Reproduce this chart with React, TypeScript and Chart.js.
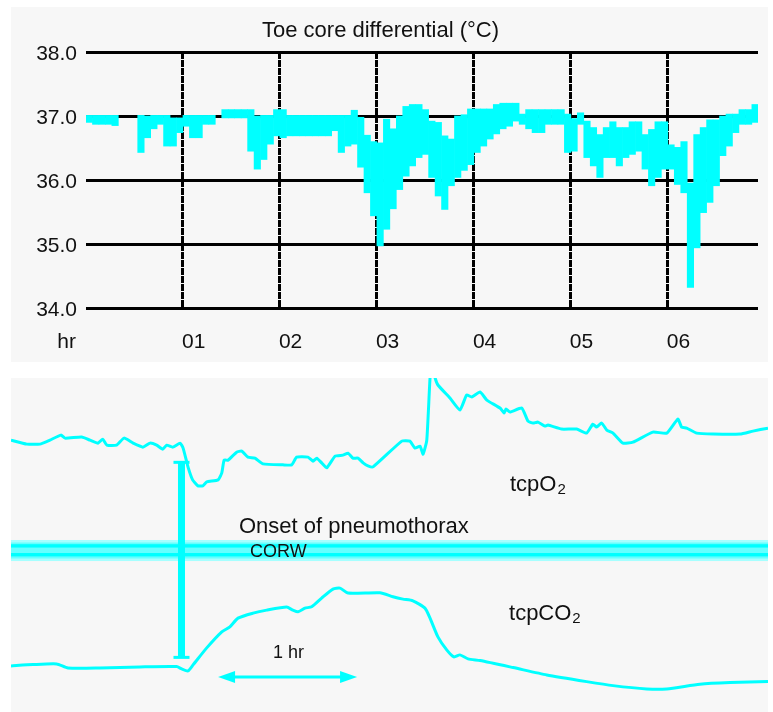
import React, { useEffect, useRef } from 'react';
import { Chart, registerables } from 'chart.js';

Chart.register(...registerables);

const FONT = "'Liberation Sans', Arial, Helvetica, sans-serif";
const CYAN = '#00ffff';
const INK = '#111111';

// ---------- Top panel: toe-core temperature differential, 4-minute bins ----------
const BIN_MINUTES = 4;
const X_MAX_HR = 6.93;
const tempMin: (number | null)[] = [
  36.90, 36.87, 36.87, 36.87, 36.85, null, null, null, 36.43, 36.66,
  36.80, 36.87, 36.53, 36.53, 36.74, 36.84, 36.66, 36.66, 36.87, 36.87,
  null, 36.97, 36.97, 36.97, 36.97, 36.45, 36.17, 36.32, 36.56, 36.69,
  36.66, 36.69, 36.69, 36.69, 36.69, 36.69, 36.69, 36.69, 36.77, 36.43,
  36.53, 36.56, 36.20, 35.80, 35.44, 34.97, 35.23, 35.55, 35.85, 36.06,
  36.22, 36.35, 36.40, 36.04, 35.75, 35.54, 35.91, 36.04, 36.15, 36.24,
  36.43, 36.53, 36.64, 36.72, 36.80, 36.84, 36.92, 36.87, 36.80, 36.74,
  36.74, 36.87, 36.87, 36.87, 36.43, 36.45, 36.87, 36.35, 36.22, 36.04,
  36.35, 36.35, 36.22, 36.35, 36.40, 36.45, 36.17, 35.91, 36.04, 36.17,
  36.17, 35.93, 35.80, 34.32, 34.94, 35.49, 35.65, 35.91, 36.38, 36.53,
  36.74, 36.87, 36.87, 36.90,
];
const tempMax: (number | null)[] = [
  37.01, 37.01, 37.01, 37.01, 37.01, null, null, null, 37.01, 37.00,
  37.01, 37.01, 37.01, 36.97, 36.97, 37.01, 37.01, 37.01, 37.01, 37.01,
  null, 37.10, 37.10, 37.10, 37.10, 37.10, 37.00, 37.01, 37.01, 37.10,
  37.10, 37.01, 37.01, 37.01, 37.01, 37.01, 37.01, 37.01, 37.01, 37.01,
  37.01, 37.09, 36.98, 36.70, 36.60, 36.58, 36.95, 36.80, 37.00, 37.15,
  37.18, 37.18, 37.10, 36.92, 36.90, 36.69, 36.64, 37.00, 37.02, 37.11,
  37.11, 37.11, 37.11, 37.18, 37.20, 37.20, 37.20, 37.03, 37.10, 37.10,
  37.10, 37.10, 37.10, 37.10, 37.03, 36.96, 37.05, 36.92, 36.82, 36.71,
  36.82, 36.91, 36.82, 36.82, 36.91, 36.91, 36.71, 36.79, 36.91, 36.91,
  36.55, 36.51, 36.60, 35.95, 36.71, 36.82, 36.94, 36.94, 37.00, 37.03,
  37.03, 37.10, 37.10, 37.18,
];
const TEMP_MIN_AXIS = 34;
const TEMP_MAX_AXIS = 38;
const hourTicks = [1, 2, 3, 4, 5, 6];
const hourLabels = ['01', '02', '03', '04', '05', '06'];
const TOP_TITLE = 'Toe core differential (°C)';

// ---------- Bottom panel: tcpO2 / tcpCO2 traces (minutes, relative level) ----------
const PANEL_MINUTES = 326.8;
const o2Minutes = [
  0, 6.8, 12.5, 16.8, 21.6, 23.3, 30.5, 34.1, 37.6, 39.6,
  41.4, 45.6, 48.8, 52.7, 56.9, 60.0, 62.9, 65.5, 67.2, 69.9,
  73.0, 74.3, 76.4, 78.4, 80.7, 82.8, 84.5, 89.4, 91.0, 92.0,
  93.7, 97.4, 99.6, 102.3, 105.3, 108.8, 117.4, 121.2, 123.3, 128.2,
  130.4, 132.0, 134.1, 136.3, 139.9, 143.3, 145.5, 147.6, 149.8, 152.0,
  154.1, 156.3, 168.7, 172.2, 174.4, 176.6, 177.9, 179.5, 180.9, 181.7,
  183.1, 184.3, 189.5, 193.8, 196.7, 198.9, 202.5, 205.4, 211.1, 212.9,
  213.7, 215.4, 220.5, 223.2, 225.4, 227.5, 230.5, 231.8, 237.7, 244.2,
  248.5, 251.2, 252.8, 255.0, 257.2, 259.9, 264.2, 268.5, 277.1, 283.1,
  287.9, 289.5, 291.7, 296.0, 303.1, 314.7, 320.3, 326.8,
];
const o2Level = [
  81.4, 80.2, 80.2, 81.4, 82.9, 82.0, 82.3, 81.4, 80.5, 81.7,
  79.9, 79.9, 82.0, 80.5, 79.3, 80.5, 79.9, 78.7, 79.9, 79.3,
  80.5, 79.0, 73.4, 69.5, 67.7, 67.7, 68.9, 69.5, 71.6, 75.4,
  75.4, 77.8, 78.1, 76.3, 76.0, 74.3, 74.0, 74.0, 76.3, 76.3,
  75.1, 76.0, 74.6, 73.1, 76.6, 76.9, 77.5, 76.0, 76.0, 74.6,
  73.7, 73.4, 81.1, 81.1, 79.0, 79.6, 77.2, 81.4, 100, 104,
  100, 97.9, 94.0, 90.4, 94.9, 94.3, 95.8, 93.4, 91.0, 89.5,
  90.7, 89.8, 91.0, 87.1, 86.5, 86.8, 85.6, 85.9, 84.7, 84.7,
  83.5, 86.2, 85.3, 86.5, 84.4, 83.5, 80.5, 80.8, 83.8, 83.5,
  87.7, 85.3, 85.0, 83.5, 83.2, 83.2, 84.1, 85.0,
];
const co2Minutes = [
  0, 9.5, 19.7, 24.6, 38.4, 55.7, 71.5, 73.7, 76.4, 78.6,
  84.5, 91.0, 94.5, 98.0, 104.5, 110.4, 119.0, 121.7, 123.9, 126.9,
  129.8, 134.1, 139.0, 142.0, 145.5, 159.3, 164.9, 169.2, 173.5, 178.7,
  180.9, 184.3, 188.1, 191.2, 193.8, 197.3, 202.5, 216.8, 231.3, 248.5,
  259.9, 274.4, 283.1, 297.4, 310.4, 326.8,
];
const co2Level = [
  13.8, 14.2, 14.4, 13.2, 13.2, 13.5, 13.6, 12.9, 12.3, 14.1,
  19.2, 24.0, 25.5, 28.1, 29.6, 30.5, 31.4, 30.5, 30.0, 31.1,
  31.5, 34.1, 36.8, 37.1, 35.6, 35.7, 34.5, 33.8, 33.3, 31.1,
  28.1, 22.5, 18.6, 16.5, 17.1, 15.9, 15.4, 13.3, 11.1, 9.1,
  7.9, 6.9, 6.9, 8.3, 8.8, 9.1,
];
// annotation anchors (minutes, level)
const ONSET_MIN = 73.6;
const ONSET_TOP = 74.9;
const ONSET_BOTTOM = 16.2;
const HOUR_BAR_START = 89.4;
const HOUR_BAR_END = 149.4;
const HOUR_BAR_LEVEL = 10.5;
const CORW_TOP = 51.5;
const CORW_BOTTOM = 45.2;

function topConfig(): any {
  const data = tempMin.map((lo, i) => ({
    x: ((i + 0.5) * BIN_MINUTES) / 60,
    y: lo == null || tempMax[i] == null ? null : [lo, tempMax[i]],
  }));
  const labelsPlugin = {
    id: 'topLabels',
    afterDraw(chart: any) {
      const { ctx, scales, chartArea } = chart;
      const x = scales.x;
      ctx.save();
      ctx.fillStyle = INK;
      ctx.textBaseline = 'alphabetic';
      ctx.font = `21px ${FONT}`;
      ctx.textAlign = 'left';
      hourTicks.forEach((h, i) => {
        ctx.fillText(hourLabels[i], x.getPixelForValue(h) - 1, 341);
      });
      ctx.textAlign = 'right';
      ctx.fillText('hr', chartArea.left - 10, 341);
      ctx.textAlign = 'left';
      ctx.font = `22px ${FONT}`;
      ctx.fillText(TOP_TITLE, 251, 30);
      ctx.restore();
    },
  };
  return {
    type: 'bar',
    data: {
      datasets: [
        {
          data,
          backgroundColor: CYAN,
          borderWidth: 0,
          barPercentage: 1,
          categoryPercentage: 1,
        },
      ],
    },
    options: {
      animation: false,
      responsive: false,
      layout: { padding: { top: 45, right: 10, left: 0, bottom: 0 } },
      plugins: { legend: { display: false }, tooltip: { enabled: false }, title: { display: false } },
      scales: {
        x: {
          type: 'linear',
          min: 0,
          max: X_MAX_HR,
          offset: false,
          grid: { color: '#000', lineWidth: 3, drawTicks: false, offset: false },
          border: { display: false, dash: [7, 1] },
          ticks: { display: false },
          afterBuildTicks: (s: any) => {
            s.ticks = hourTicks.map((v) => ({ value: v }));
          },
          afterFit: (s: any) => {
            s.height = 54;
          },
        },
        y: {
          min: TEMP_MIN_AXIS,
          max: TEMP_MAX_AXIS,
          grid: { color: '#000', lineWidth: 3, drawTicks: false },
          border: { display: false },
          ticks: {
            stepSize: 1,
            padding: 9,
            labelOffset: 2,
            color: INK,
            font: { family: FONT, size: 21 },
            callback: (v: any) => Number(v).toFixed(1),
          },
          afterFit: (s: any) => {
            s.width = 75;
          },
        },
      },
    },
    plugins: [labelsPlugin],
  };
}

function bottomConfig(): any {
  const annot = {
    id: 'bottomAnnotations',
    beforeDatasetsDraw(chart: any) {
      const { ctx, scales, chartArea } = chart;
      const y = scales.y;
      const t = y.getPixelForValue(CORW_TOP);
      const b = y.getPixelForValue(CORW_BOTTOM);
      const h = b - t;
      ctx.save();
      ctx.fillStyle = '#a6ffff';
      ctx.fillRect(chartArea.left, t, chartArea.right - chartArea.left, h);
      ctx.fillStyle = '#66ffff';
      ctx.fillRect(chartArea.left, t + h * 0.12, chartArea.right - chartArea.left, h * 0.76);
      ctx.fillStyle = CYAN;
      ctx.fillRect(chartArea.left, t + h * 0.2, chartArea.right - chartArea.left, h * 0.16);
      ctx.fillRect(chartArea.left, t + h * 0.62, chartArea.right - chartArea.left, h * 0.16);
      ctx.restore();
    },
    afterDatasetsDraw(chart: any) {
      const { ctx, scales } = chart;
      const x = scales.x;
      const y = scales.y;
      ctx.save();
      // onset I-bar
      const bx = x.getPixelForValue(ONSET_MIN);
      const bt = y.getPixelForValue(ONSET_TOP);
      const bb = y.getPixelForValue(ONSET_BOTTOM);
      ctx.fillStyle = CYAN;
      ctx.fillRect(bx - 3.5, bt, 7, bb - bt);
      ctx.fillRect(bx - 8, bt - 1, 16, 3);
      ctx.fillRect(bx - 8, bb - 2, 16, 3);
      // 1 hr double arrow
      const ax1 = x.getPixelForValue(HOUR_BAR_START);
      const ax2 = x.getPixelForValue(HOUR_BAR_END);
      const ay = y.getPixelForValue(HOUR_BAR_LEVEL);
      ctx.strokeStyle = CYAN;
      ctx.lineWidth = 3;
      ctx.beginPath();
      ctx.moveTo(ax1 + 10, ay);
      ctx.lineTo(ax2 - 10, ay);
      ctx.stroke();
      ctx.beginPath();
      ctx.moveTo(ax1, ay);
      ctx.lineTo(ax1 + 17, ay - 6);
      ctx.lineTo(ax1 + 17, ay + 6);
      ctx.closePath();
      ctx.fill();
      ctx.beginPath();
      ctx.moveTo(ax2, ay);
      ctx.lineTo(ax2 - 17, ay - 6);
      ctx.lineTo(ax2 - 17, ay + 6);
      ctx.closePath();
      ctx.fill();
      // texts
      ctx.fillStyle = INK;
      ctx.textAlign = 'left';
      ctx.textBaseline = 'alphabetic';
      ctx.font = `22px ${FONT}`;
      ctx.fillText('Onset of pneumothorax', x.getPixelForValue(98.4), y.getPixelForValue(53.6));
      ctx.font = `18px ${FONT}`;
      ctx.fillText('CORW', x.getPixelForValue(103.2), y.getPixelForValue(46.5));
      ctx.fillText('1 hr', x.getPixelForValue(113.1), y.getPixelForValue(16.3));
      const sub = (base: string, s: string, px: number, py: number) => {
        ctx.font = `22px ${FONT}`;
        ctx.fillText(base, px, py);
        const w = ctx.measureText(base).width;
        ctx.font = `15px ${FONT}`;
        ctx.fillText(s, px + w + 1, py + 3);
      };
      sub('tcpO', '2', x.getPixelForValue(215.4), y.getPixelForValue(66.3));
      sub('tcpCO', '2', x.getPixelForValue(215.0), y.getPixelForValue(27.5));
      ctx.restore();
    },
  };
  return {
    type: 'line',
    data: {
      datasets: [
        {
          label: 'tcpO2',
          data: o2Minutes.map((t, i) => ({ x: t, y: o2Level[i] })),
          borderColor: CYAN,
          borderWidth: 3,
          pointRadius: 0,
          tension: 0.15,
          fill: false,
        },
        {
          label: 'tcpCO2',
          data: co2Minutes.map((t, i) => ({ x: t, y: co2Level[i] })),
          borderColor: CYAN,
          borderWidth: 3,
          pointRadius: 0,
          tension: 0.2,
          fill: false,
        },
      ],
    },
    options: {
      animation: false,
      responsive: false,
      layout: { padding: 0 },
      plugins: { legend: { display: false }, tooltip: { enabled: false } },
      scales: {
        x: { type: 'linear', display: false, min: 0, max: PANEL_MINUTES },
        y: { type: 'linear', display: false, min: 0, max: 100 },
      },
    },
    plugins: [annot],
  };
}

export default function App() {
  const topRef = useRef<HTMLCanvasElement>(null);
  const botRef = useRef<HTMLCanvasElement>(null);
  useEffect(() => {
    const c1 = new Chart(topRef.current as HTMLCanvasElement, topConfig());
    const c2 = new Chart(botRef.current as HTMLCanvasElement, bottomConfig());
    return () => {
      c1.destroy();
      c2.destroy();
    };
  }, []);
  return (
    <div>
      <div style={{ position: 'absolute', left: 11, top: 7, width: 757, height: 355, background: '#f7f7f7' }}>
        <canvas ref={topRef} width={757} height={355} style={{ display: 'block' }} />
      </div>
      <div style={{ position: 'absolute', left: 11, top: 378, width: 757, height: 334, background: '#f7f7f7' }}>
        <canvas ref={botRef} width={757} height={334} style={{ display: 'block' }} />
      </div>
    </div>
  );
}
